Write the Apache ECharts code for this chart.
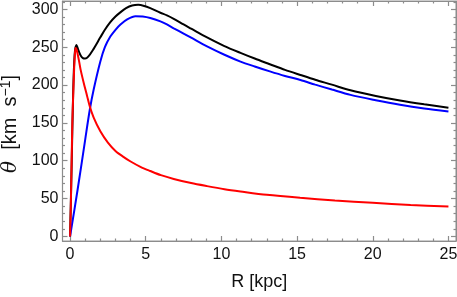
<!DOCTYPE html>
<html>
<head>
<meta charset="utf-8">
<style>
  html, body { margin: 0; padding: 0; background: #fff; }
  #main { width: 457px; height: 297px; }
</style>
</head>
<body>
<div id="main"></div>
<script src="https://cdn.jsdelivr.net/npm/echarts@6/dist/echarts.min.js"></script>
<script>
// values
var totalR = [0, 0.1, 0.2, 0.3, 0.42, 0.55, 0.7, 0.85, 1.0, 1.2, 1.5, 2.0, 2.3, 2.66, 3.0, 3.32, 3.7, 4.1, 4.5, 4.9, 5.3, 5.97, 6.4, 6.85, 7.5, 8.0, 9.05, 10.2, 11.26, 12.2, 13.2, 14.2, 15.22, 16.2, 17.3, 18.53, 20.2, 21.8, 23.4, 25];
var totalV = [0, 90, 186, 240, 253, 246, 239, 235.5, 235, 237.5, 246, 263, 273, 283, 290.5, 296, 301.5, 305, 306, 304.5, 301.5, 295.5, 292, 287.5, 280, 274.5, 263, 251.5, 242.5, 235, 227.5, 220, 213.3, 207, 200.5, 193, 185.5, 179.5, 174.5, 170];

var diskR = [0, 0.5, 1.0, 1.3, 1.56, 2.0, 2.3, 2.66, 3.0, 3.33, 3.8, 4.32, 4.8, 5.3, 5.97, 6.4, 6.85, 7.5, 8.0, 9.05, 10.2, 11.26, 12.2, 13.2, 14.2, 15.22, 16.2, 17.3, 18.53, 20.2, 21.8, 23.4, 25];
var diskV = [0, 62, 128, 167, 194, 231, 250, 264, 273, 280, 287, 291, 290.5, 288.5, 284, 280, 275, 268, 262.5, 251, 240, 231, 224.5, 218, 212, 206.7, 200.5, 194, 187, 180, 174, 169, 165];

var bulgeR = [0, 0.05, 0.1, 0.15, 0.2, 0.27, 0.33, 0.37, 0.42, 0.5, 0.6, 0.7, 0.9, 1.12, 1.3, 1.56, 2.0, 2.5, 3.0, 3.5, 4.0, 4.65, 5.3, 6.0, 6.85, 8.0, 9.05, 10.2, 11.26, 13.0, 15.2, 17.5, 20.0, 22.5, 25];
var bulgeV = [0, 40, 95, 150, 182, 222, 244, 249, 247.5, 241, 231, 220, 203, 186, 172, 157, 139, 124, 113, 105.5, 99, 92, 86.5, 81, 76, 70.5, 66.5, 62.5, 59.5, 55, 51, 47.5, 44.5, 41.5, 39.5];

var xMajor = [0, 5, 10, 15, 20, 25];
var yMajor = [0, 50, 100, 150, 200, 250, 300];

function pairs(xs, ys) {
    var out = [];
    for (var i = 0; i < xs.length; i++) out.push([xs[i], ys[i]]);
    return out;
}

var frameColor = '#8c8c8c';
var fontName = 'Liberation Sans';

// one axis per side of the frame, major ticks from the lists, minor ticks from the scale
function xAx(pos, showLabels, extra) {
    var a = {
        type: 'value', position: pos, min: -0.5, max: 25.5,
        axisLine: { show: true, onZero: false, lineStyle: { color: frameColor, width: 1.2 } },
        axisTick: { show: true, inside: true, length: 5, customValues: xMajor, lineStyle: { color: frameColor, width: 1.2 } },
        minorTick: { show: true, splitNumber: 5, length: 2.5, lineStyle: { color: frameColor, width: 1.2 } },
        axisLabel: { show: showLabels, customValues: xMajor, margin: 6, color: '#111', fontSize: 16, fontFamily: fontName },
        splitLine: { show: false }
    };
    return Object.assign(a, extra || {});
}
function yAx(pos, showLabels, extra) {
    var a = {
        type: 'value', position: pos, min: -6, max: 311,
        axisLine: { show: true, onZero: false, lineStyle: { color: frameColor, width: 1.2 } },
        axisTick: { show: true, inside: true, length: 5, customValues: yMajor, lineStyle: { color: frameColor, width: 1.2 } },
        minorTick: { show: true, splitNumber: 5, length: 2.5, lineStyle: { color: frameColor, width: 1.2 } },
        axisLabel: { show: showLabels, customValues: yMajor, margin: 4, color: '#111', fontSize: 16, fontFamily: fontName },
        splitLine: { show: false }
    };
    return Object.assign(a, extra || {});
}

var myChart = echarts.init(document.getElementById('main'));

var option = {
    animation: false,
    grid: {
        left: 62.5, right: 1, top: 1, bottom: 56,
        outerBoundsMode: 'none',
        show: true, borderColor: '#999999', borderWidth: 1, backgroundColor: 'transparent'
    },
    xAxis: [
        xAx('bottom', true, {
            name: 'R [kpc]', nameLocation: 'middle', nameGap: 32,
            nameTextStyle: { fontSize: 18, fontFamily: fontName, color: '#111' }
        }),
        xAx('top', false)
    ],
    yAxis: [
        yAx('left', true, {
            name: '{i|θ}  {t|[km  s}{s|−1}{t|]}', nameLocation: 'middle', nameGap: 37,
            nameTextStyle: {
                fontSize: 20, fontFamily: fontName, color: '#111', padding: [0, 6, 0, 0],
                rich: {
                    i: { fontStyle: 'italic', fontSize: 20, fontFamily: 'DejaVu Serif', color: '#111', lineHeight: 23 },
                    t: { fontSize: 20, fontFamily: fontName, color: '#111', lineHeight: 23 },
                    s: { fontSize: 14, fontFamily: fontName, color: '#111', verticalAlign: 'top', lineHeight: 23 }
                }
            }
        }),
        yAx('right', false)
    ],
    series: [
        {
            name: 'total', type: 'line', smooth: 0.3, showSymbol: false,
            lineStyle: { color: '#000000', width: 2 },
            data: pairs(totalR, totalV)
        },
        {
            name: 'disk', type: 'line', smooth: 0.3, showSymbol: false,
            lineStyle: { color: '#0000ff', width: 2 },
            data: pairs(diskR, diskV)
        },
        {
            name: 'bulge', type: 'line', smooth: 0.3, showSymbol: false,
            lineStyle: { color: '#ff0000', width: 2 },
            data: pairs(bulgeR, bulgeV)
        }
    ]
};

myChart.setOption(option);
</script>
</body>
</html>
